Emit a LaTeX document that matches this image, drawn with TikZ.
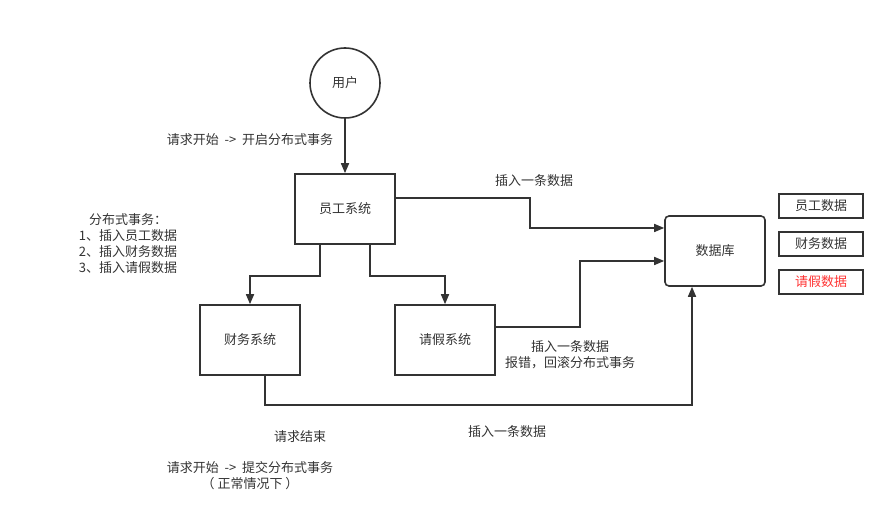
\documentclass[tikz,border=0pt]{standalone}
\usepackage{fontspec}
\setmainfont{Noto Sans CJK SC}
\usetikzlibrary{arrows.meta,positioning,shapes}
\definecolor{linegray}{HTML}{333333}
\definecolor{errred}{HTML}{FF3333}

\begin{document}
\begin{tikzpicture}[
  x=1pt, y=-1pt,
  font=\fontsize{13}{16}\selectfont,
  box/.style={rectangle, draw=linegray, line width=1.6pt, minimum width=100pt, minimum height=70pt, text=linegray},
  dbbox/.style={rectangle, rounded corners=4pt, draw=linegray, line width=1.6pt, minimum width=100pt, minimum height=70pt, text=linegray},
  tag/.style={rectangle, draw=linegray, line width=1.6pt, minimum width=84pt, minimum height=24pt, text=linegray},
  note/.style={align=center, text=linegray},
  arrow/.style={-{Triangle[length=10pt,width=8pt]}, line width=1.6pt, draw=linegray}
]
\useasboundingbox (0,0) rectangle (895,529);

\node[circle, draw=linegray, line width=1.6pt, minimum size=70pt, text=linegray] (user) at (345,83) {用户};
\node[box] (staff) at (345,209) {员工系统};
\node[box] (finance) at (250,340) {财务系统};
\node[box] (leave) at (445,340) {请假系统};
\node[dbbox] (db) at (715,251) {数据库};

\node[tag] (staffdata) at (821,206) {员工数据};
\node[tag] (financedata) at (821,244) {财务数据};
\node[tag, text=errred] (leavedata) at (821,282) {请假数据};

\node[note] (begin) at (250,140) {请求开始 ~-> ~开启分布式事务};
\node[note] (steps) at (128,244) {分布式事务：\\1、插入员工数据\\2、插入财务数据\\3、插入请假数据};
\node[note] (ins1) at (534,181) {插入一条数据};
\node[note] (rollback) at (570,355) {插入一条数据\\报错，回滚分布式事务};
\node[note] (ins3) at (507,432) {插入一条数据};
\node[note] (reqend) at (300,437) {请求结束};
\node[note] (commit) at (250,476) {请求开始 ~-> ~提交分布式事务\\（ 正常情况下 ）};

\draw[arrow] (user) -- (staff);
\draw[arrow] ([xshift=-25pt]staff.south) -- ++(0,31) -| (finance.north);
\draw[arrow] ([xshift=25pt]staff.south) -- ++(0,31) -| (leave.north);
\draw[arrow] ([yshift=11pt]staff.east) -| (530,228) -- ([yshift=23pt]db.west);
\draw[arrow] ([yshift=13pt]leave.east) -| (580,261) -- ([yshift=-10pt]db.west);
\draw[arrow] ([xshift=15pt]finance.south) |- (692,405) -- ([xshift=-23pt]db.south);

\end{tikzpicture}
\end{document}
